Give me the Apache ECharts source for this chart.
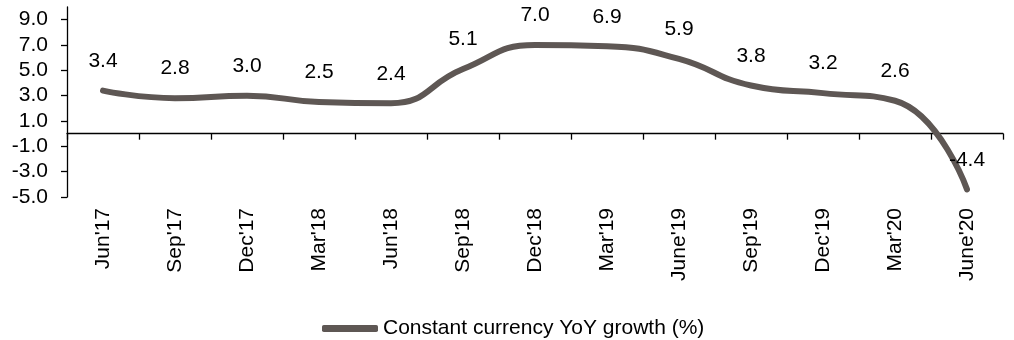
<!DOCTYPE html>
<html>
<head>
<meta charset="utf-8">
<script src="https://cdn.jsdelivr.net/npm/echarts@6/dist/echarts.min.js"></script>
<style>
  html, body { margin: 0; padding: 0; background: #fff; }
  #chart { width: 1014px; height: 340px; }
</style>
</head>
<body>
<div id="chart"></div>
<script>
const categories = ["Jun'17", "Sep'17", "Dec'17", "Mar'18", "Jun'18", "Sep'18", "Dec'18", "Mar'19", "June'19", "Sep'19", "Dec'19", "Mar'20", "June'20"]
const growth = [3.4, 2.8, 3.0, 2.5, 2.4, 5.1, 7.0, 6.9, 5.9, 3.8, 3.2, 2.6, -4.4]
const yTicks = [-5, -3, -1, 1, 3, 5, 7, 9]
const seriesName = 'Constant currency YoY growth (%)'

const font = 'Liberation Sans, Arial, sans-serif'
const fontSize = 21
const lineColor = '#5e5754'

const myChart = echarts.init(document.getElementById('chart'))
const option = {
  animation: false,
  grid: {
    left: 67,
    right: 11,
    top: 7,
    bottom: 143
  },
  legend: {
    left: 317,
    top: 313,
    icon: 'roundRect',
    itemWidth: 56,
    itemHeight: 7,
    textStyle: {
      fontFamily: font,
      fontSize: fontSize,
      color: '#000'
    },
    data: [seriesName]
  },
  xAxis: {
    type: 'category',
    data: categories,
    boundaryGap: true,
    // line and ticks sit on zero, labels stay under the plot
    axisLine: {
      show: true,
      onZero: true,
      lineStyle: { color: '#000', width: 1.3 }
    },
    axisTick: {
      show: true,
      length: 6,
      lineStyle: { color: '#000', width: 1.3 }
    },
    axisLabel: {
      rotate: 90,
      margin: 11,
      interval: 0,
      fontFamily: font,
      fontSize: fontSize,
      color: '#000'
    },
    splitLine: { show: false }
  },
  yAxis: {
    type: 'value',
    min: -5,
    max: 10,
    axisLine: {
      show: true,
      lineStyle: { color: '#000', width: 1.3 }
    },
    axisTick: {
      show: true,
      length: 6,
      customValues: yTicks,
      lineStyle: { color: '#000', width: 1.3 }
    },
    axisLabel: {
      margin: 19,
      customValues: yTicks,
      fontFamily: font,
      fontSize: fontSize,
      color: '#000',
      formatter: (v) => v.toFixed(1)
    },
    splitLine: { show: false }
  },
  series: [
    {
      name: seriesName,
      type: 'line',
      data: growth,
      smooth: 0.5,
      symbol: 'circle',
      symbolSize: 2,
      itemStyle: { color: lineColor },
      lineStyle: { color: lineColor, width: 6, cap: 'round', join: 'round' },
      label: {
        show: true,
        position: 'top',
        distance: 18,
        fontFamily: font,
        fontSize: fontSize,
        color: '#000',
        formatter: (p) => p.value.toFixed(1)
      }
    }
  ]
}
myChart.setOption(option)
</script>
</body>
</html>
